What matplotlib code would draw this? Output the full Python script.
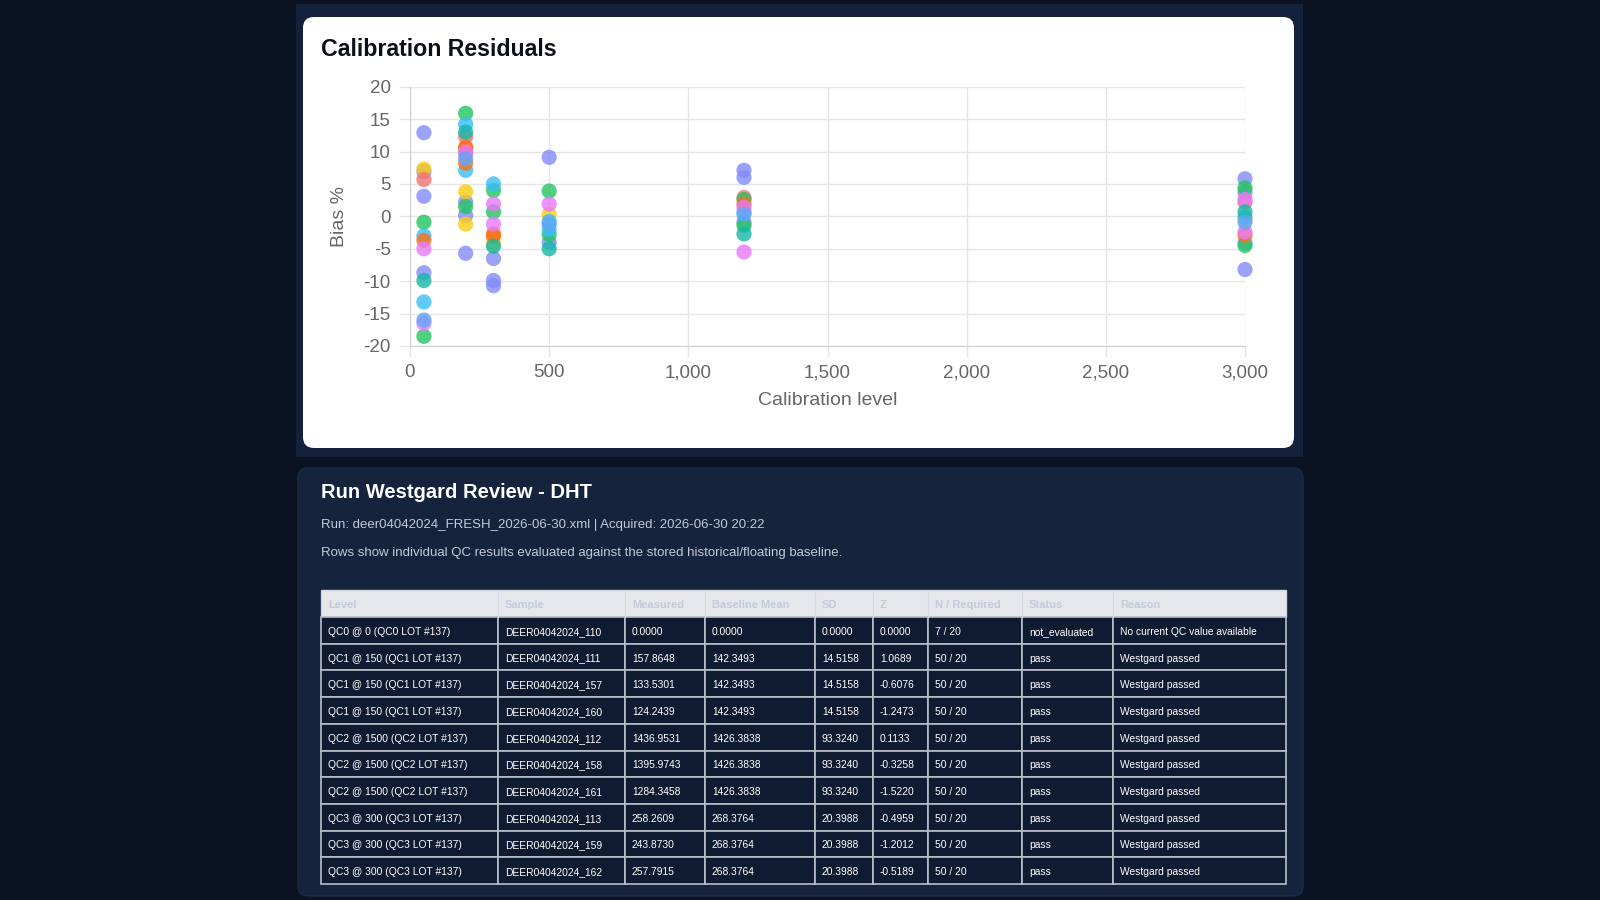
import numpy as np
import matplotlib
matplotlib.use("Agg")
import matplotlib.pyplot as plt
from matplotlib.patches import FancyBboxPatch, Rectangle

plt.rcParams['font.family'] = ['Liberation Sans', 'DejaVu Sans']
plt.rcParams['axes.unicode_minus'] = False

# residual data, one list pair per colour series
levels = [0, 500, 1000, 1500, 2000, 2500, 3000]
indigo_x = [50, 50, 50, 50, 200, 200, 200, 200, 300, 300, 300, 500, 500, 1200, 1200, 1200, 3000, 3000, 3000, 3000]
indigo_y = [12.9, 6.9, 3.1, -8.7, 9.7, 2.2, 0.15, -5.7, -6.5, -9.9, -10.7, 9.1, -4.0, 7.1, 6.0, -0.9, 5.8, 3.7, -4.1, -8.2]
yellow_x = [50, 200, 200, 300, 500, 3000]
yellow_y = [7.3, 3.8, -1.2, -4.2, 0.3, -0.5]
red_x = [50, 200, 200, 1200, 3000]
red_y = [5.7, 12.3, 10.5, 2.9, 2.2]
green_x = [50, 50, 200, 200, 300, 300, 500, 500, 1200, 1200, 3000, 3000]
green_y = [-0.9, -18.5, 15.9, 1.5, 4.0, 0.7, 3.9, -2.8, 2.6, -1.4, 4.4, -4.5]
sky_x = [50, 50, 200, 200, 300, 500, 500, 1200, 3000]
sky_y = [-3.0, -13.2, 14.2, 7.1, 5.0, -0.8, -2.0, 0.7, -0.1]
orange_x = [50, 200, 200, 300, 300, 1200, 3000]
orange_y = [-3.7, 10.7, 8.2, -2.7, -3.1, 1.9, -2.9]
fuchsia_x = [50, 50, 200, 300, 300, 500, 1200, 1200, 3000, 3000]
fuchsia_y = [-5.0, -16.5, 9.9, 1.9, -1.2, 1.9, 1.4, -5.5, 2.6, -2.4]
teal_x = [50, 200, 300, 500, 1200, 3000]
teal_y = [-9.9, 13.0, -4.6, -5.0, -2.7, 0.7]
blue_x = [50, 200, 500, 1200, 3000]
blue_y = [-16.0, 8.9, -1.2, 0.3, -0.9]

series = [
    (indigo_x, indigo_y, "#818cf8"),
    (yellow_x, yellow_y, "#facc15"),
    (red_x, red_y, "#f87171"),
    (green_x, green_y, "#22c55e"),
    (sky_x, sky_y, "#38bdf8"),
    (orange_x, orange_y, "#f97316"),
    (fuchsia_x, fuchsia_y, "#e879f9"),
    (teal_x, teal_y, "#14b8a6"),
    (blue_x, blue_y, "#60a5fa"),
]

# table data
col_names = ["Level", "Sample", "Measured", "Baseline Mean", "SD", "Z", "N / Required", "Status", "Reason"]
lvl = ["QC0 @ 0 (QC0 LOT #137)", "QC1 @ 150 (QC1 LOT #137)", "QC1 @ 150 (QC1 LOT #137)", "QC1 @ 150 (QC1 LOT #137)",
       "QC2 @ 1500 (QC2 LOT #137)", "QC2 @ 1500 (QC2 LOT #137)", "QC2 @ 1500 (QC2 LOT #137)",
       "QC3 @ 300 (QC3 LOT #137)", "QC3 @ 300 (QC3 LOT #137)", "QC3 @ 300 (QC3 LOT #137)"]
sample = ["DEER04042024_110", "DEER04042024_111", "DEER04042024_157", "DEER04042024_160", "DEER04042024_112",
          "DEER04042024_158", "DEER04042024_161", "DEER04042024_113", "DEER04042024_159", "DEER04042024_162"]
measured = ["0.0000", "157.8648", "133.5301", "124.2439", "1436.9531", "1395.9743", "1284.3458", "258.2609", "243.8730", "257.7915"]
base_mean = ["0.0000", "142.3493", "142.3493", "142.3493", "1426.3838", "1426.3838", "1426.3838", "268.3764", "268.3764", "268.3764"]
sd = ["0.0000", "14.5158", "14.5158", "14.5158", "93.3240", "93.3240", "93.3240", "20.3988", "20.3988", "20.3988"]
z = ["0.0000", "1.0689", "-0.6076", "-1.2473", "0.1133", "-0.3258", "-1.5220", "-0.4959", "-1.2012", "-0.5189"]
n_req = ["7 / 20"] + ["50 / 20"] * 9
status = ["not_evaluated"] + ["pass"] * 9
reason = ["No current QC value available"] + ["Westgard passed"] * 9

fig = plt.figure(figsize=(16, 9), dpi=100)
fig.patch.set_facecolor("#0b1322")

# background layer in pixel coords
bg = fig.add_axes([0, 0, 1, 1])
bg.set_xlim(0, 1600)
bg.set_ylim(900, 0)
bg.axis("off")
bg.add_patch(Rectangle((296, 4), 1007, 453, facecolor="#13213a", edgecolor="none"))
bg.add_patch(FancyBboxPatch((303, 17), 991, 431, boxstyle="round,pad=0,rounding_size=11",
                            facecolor="white", edgecolor="none"))
bg.add_patch(FancyBboxPatch((298, 468), 1005, 428, boxstyle="round,pad=0,rounding_size=10",
                            facecolor="#15233d", edgecolor="#1b2b47", lw=1))
bg.text(321, 49, "Calibration Residuals", fontsize=16.7, fontweight="bold", color="#0b0f19", va="center")
bg.text(321, 493, "Run Westgard Review - DHT", fontsize=14.5, fontweight="bold", color="white", va="center")
bg.text(321, 525, "Run: deer04042024_FRESH_2026-06-30.xml | Acquired: 2026-06-30 20:22",
        fontsize=9.5, color="#c3cad6", va="center")
bg.text(321, 553, "Rows show individual QC results evaluated against the stored historical/floating baseline.",
        fontsize=9.5, color="#c3cad6", va="center")

# table
col_edges = [321, 498, 625, 705, 815, 873, 928, 1022, 1113, 1286]
head_top, head_h, row_h = 590, 27, 26.7
bg.add_patch(Rectangle((col_edges[0], head_top), col_edges[-1] - col_edges[0], head_h,
                       facecolor="#e5e7eb", edgecolor="#d1d5db", lw=1))
for j, name in enumerate(col_names):
    bg.text(col_edges[j] + 7, head_top + head_h / 2 + 5, name, fontsize=8, fontweight="bold",
            color="#c2cadb", va="baseline")
    if j > 0:
        bg.plot([col_edges[j], col_edges[j]], [head_top, head_top + head_h], color="#d4d8e0", lw=0.8)
cols = [lvl, sample, measured, base_mean, sd, z, n_req, status, reason]
for i in range(len(lvl)):
    top = head_top + head_h + i * row_h
    for j in range(len(cols)):
        bg.add_patch(Rectangle((col_edges[j], top), col_edges[j + 1] - col_edges[j], row_h,
                               facecolor="#0f1b31", edgecolor="#b9bfca", lw=1.2))
        bg.text(col_edges[j] + 7, top + row_h / 2 + 4.5, cols[j][i], fontsize=7.4,
                color="white", va="baseline")

# scatter chart
W, H = 1600, 900
ax = fig.add_axes([410 / W, 1 - 346 / H, (1245 - 410) / W, (346 - 86.7) / H])
ax.set_facecolor("white")
for xs, ys, c in series:
    ax.scatter(xs, ys, s=120, color=c, alpha=0.8, edgecolors="none", zorder=3, clip_on=False)
ax.set_xlim(0, 3000)
ax.set_ylim(-20, 20)
ax.set_xticks(levels)
ax.set_xticklabels([f"{v:,}" for v in levels])
ax.set_yticks(np.arange(-20, 21, 5))
ax.grid(True, color="#e5e5e5", lw=1)
ax.set_axisbelow(True)
for s in ["top", "right"]:
    ax.spines[s].set_visible(False)
for s in ["left", "bottom"]:
    ax.spines[s].set_color("#cfcfcf")
ax.tick_params(colors="#e5e5e5", labelcolor="#666666", labelsize=13.5, length=8, width=1)
ax.tick_params(axis="y", pad=6)
ax.tick_params(axis="x", pad=5)
ax.set_xlabel("Calibration level", fontsize=14, color="#666666", labelpad=8)
ax.set_ylabel("Bias %", fontsize=14, color="#666666", labelpad=11)

fig.savefig("out.png", dpi=100, facecolor=fig.get_facecolor())
